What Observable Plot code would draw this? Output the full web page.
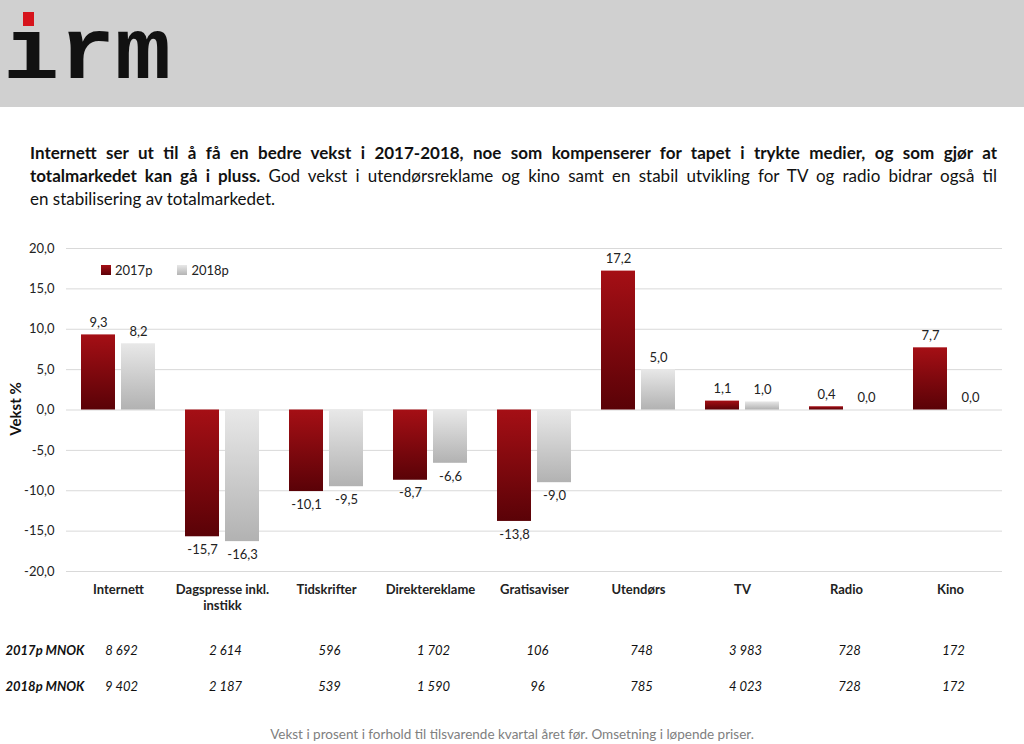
<!DOCTYPE html>
<html><head><meta charset="utf-8">
<script src="https://cdn.jsdelivr.net/npm/d3@7"></script>
<script src="https://cdn.jsdelivr.net/npm/@observablehq/plot@0.6"></script>
<style>
body{margin:0;background:#fff;font-family:Lato,"Open Sans",sans-serif;color:#111;}
#page{position:relative;width:1024px;height:744px;overflow:hidden;background:#fff;}
#header{position:absolute;left:0;top:0;width:1024px;height:107px;background:#d0d0d0;}
#logo{position:absolute;left:0;top:0;}
#title{position:absolute;left:30px;top:141px;width:967px;font-size:17px;line-height:23px;color:#111;}
#title .l{text-align:justify;text-align-last:justify;white-space:nowrap;}
#title .l.last{text-align-last:left;}
#title b{font-weight:bold;}
#chart{position:absolute;left:0;top:228px;}
#table{position:absolute;left:0;top:632px;}
#ylab{position:absolute;left:15px;top:409px;transform:translate(-50%,-50%) rotate(-90deg);font-weight:bold;font-size:15px;color:#111;white-space:nowrap;}
#legend{position:absolute;left:101px;top:262px;font-size:13px;color:#222;display:flex;align-items:center;}
#legend .sw{display:inline-block;width:10px;height:10px;margin-right:4px;}
#legend .item{display:flex;align-items:center;margin-right:25px;}
#foot{position:absolute;left:0;width:1024px;top:726px;text-align:center;font-size:13.5px;color:#808080;}
</style></head>
<body><div id="page">
<div id="header"></div>
<svg id="logo" width="200" height="107">
  <text x="0" y="78" transform="scale(1.06,1)" font-family="Liberation Mono" font-weight="bold" font-size="88" fill="#111"><tspan x="3">ırm</tspan></text>
  <rect x="23" y="12" width="11" height="14" fill="#d6141c"></rect>
</svg>
<div id="title">
  <div class="l"><b>Internett ser ut til å få en bedre vekst i 2017-2018, noe som kompenserer for tapet i trykte medier, og som gjør at</b></div>
  <div class="l"><b>totalmarkedet kan gå i pluss.</b> God vekst i utendørsreklame og kino samt en stabil utvikling for TV og radio bidrar også til</div>
  <div class="l last">en stabilisering av totalmarkedet.</div>
</div>
<div id="chart"></div>
<div id="ylab">Vekst %</div>
<div id="legend">
  <span class="item"><span class="sw" style="background:linear-gradient(#a50f15,#5c0008)"></span>2017p</span>
  <span class="item"><span class="sw" style="background:linear-gradient(#e8e8e8,#b4b4b4)"></span>2018p</span>
</div>
<div id="table"></div>
<div id="foot">Vekst i prosent i forhold til tilsvarende kvartal året før. Omsetning i løpende priser.</div>
</div>
<script>
const categories = ["Internett","Dagspresse inkl. instikk","Tidskrifter","Direktereklame","Gratisaviser","Utendørs","TV","Radio","Kino"];
const series = ["2017p","2018p"];
const growth2017 = [9.3,-15.7,-10.1,-8.7,-13.8,17.2,1.1,0.4,7.7];
const growth2018 = [8.2,-16.3,-9.5,-6.6,-9.0,5.0,1.0,0.0,0.0];
const tableRows = ["2017p MNOK","2018p MNOK"];
const mnok2017 = [8692,2614,596,1702,106,748,3983,728,172];
const mnok2018 = [9402,2187,539,1590,96,785,4023,728,172];
const yTicks = [-20,-15,-10,-5,0,5,10,15,20];

const loc = d3.formatLocale({decimal:",", thousands:"\u00a0", grouping:[3], currency:["",""], minus:"-"});
const fmt1 = loc.format(".1f");
const fmtInt = loc.format(",d");

const data = categories.flatMap((c,i)=>[
  {category:c, series:series[0], value:growth2017[i]},
  {category:c, series:series[1], value:growth2018[i]}
]);

const chart = Plot.plot({
  width:1024, height:395,
  marginTop:20, marginBottom:52, marginLeft:64, marginRight:20,
  style:{fontFamily:"Lato, 'Open Sans', sans-serif", fontSize:"13px", color:"#222", background:"transparent"},
  fx:{domain:categories, padding:0, label:null},
  x:{domain:series, paddingInner:0.15, paddingOuter:0.375, axis:null},
  y:{domain:[-20,20], label:null},
  color:{domain:series, range:["url(#gradRed)","url(#gradGray)"]},
  marks:[
    Plot.gridY(yTicks, {stroke:"#d9d9d9", strokeOpacity:1}),
    Plot.axisY(yTicks, {tickSize:0, tickPadding:12, tickFormat:fmt1, label:null}),
    Plot.axisFx({anchor:"bottom", tickSize:0, tickPadding:10, fontWeight:"bold", fontSize:13, lineHeight:1.3, label:null,
      tickFormat:d => d === "Dagspresse inkl. instikk" ? "Dagspresse inkl.\ninstikk" : d}),
    Plot.barY(data, {fx:"category", x:"series", y:"value", fill:"series"}),
    Plot.text(data.filter(d=>d.value>=0), {fx:"category", x:"series", y:"value", text:d=>fmt1(d.value), lineAnchor:"bottom", dy:-8, fill:"#222"}),
    Plot.text(data.filter(d=>d.value<0), {fx:"category", x:"series", y:"value", text:d=>fmt1(d.value), lineAnchor:"top", dy:8, fill:"#222"})
  ]
});
const svg = chart.tagName.toLowerCase() === "svg" ? chart : chart.querySelector("svg");
const defs = d3.select(svg).insert("defs", ":first-child");
const gR = defs.append("linearGradient").attr("id","gradRed").attr("x1",0).attr("y1",0).attr("x2",0).attr("y2",1);
gR.append("stop").attr("offset","0%").attr("stop-color","#a50f15");
gR.append("stop").attr("offset","100%").attr("stop-color","#5a0207");
const gG = defs.append("linearGradient").attr("id","gradGray").attr("x1",0).attr("y1",0).attr("x2",0).attr("y2",1);
gG.append("stop").attr("offset","0%").attr("stop-color","#e8e8e8");
gG.append("stop").attr("offset","100%").attr("stop-color","#b2b2b2");
document.getElementById("chart").appendChild(chart);

const tableData = categories.flatMap((c,i)=>[
  {category:c, row:tableRows[0], v:mnok2017[i]},
  {category:c, row:tableRows[1], v:mnok2018[i]}
]);
const table = Plot.plot({
  width:1024, height:72, marginTop:0, marginBottom:0, marginLeft:64, marginRight:20,
  style:{fontFamily:"Lato, 'Open Sans', sans-serif", fontSize:"13px", color:"#111", background:"transparent"},
  x:{domain:categories, type:"band", padding:0, axis:null},
  y:{domain:tableRows, type:"point", padding:0.5, axis:null},
  marks:[
    Plot.text(tableData, {x:"category", y:"row", text:d=>fmtInt(d.v), fontStyle:"italic", dx:3, fill:"#111"}),
    Plot.text(tableRows, {y:d=>d, frameAnchor:"left", textAnchor:"start", dx:-59, text:d=>d, fontStyle:"italic", fontWeight:"bold", fill:"#111"})
  ]
});
document.getElementById("table").appendChild(table);
</script>
</body></html>
